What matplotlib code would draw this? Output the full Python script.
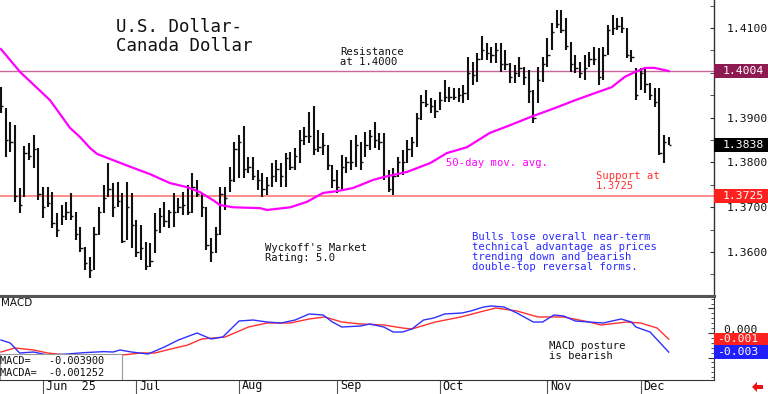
import numpy as np
import pandas as pd
import matplotlib
matplotlib.use("Agg")
import matplotlib.pyplot as plt
from matplotlib.patches import Rectangle, Polygon
import matplotlib.transforms as mtrans

# ---------------- data ----------------
highs = [1.3968, 1.3921, 1.3890, 1.3883, 1.3743, 1.3837, 1.3843, 1.3861, 1.3832, 1.3745,
         1.3745, 1.3734, 1.3687, 1.3705, 1.3712, 1.3732, 1.3689, 1.3656, 1.3611, 1.3589,
         1.3656, 1.3700, 1.3750, 1.3799, 1.3754, 1.3756, 1.3732, 1.3756, 1.3732, 1.3671,
         1.3660, 1.3622, 1.3620, 1.3687, 1.3698, 1.3712, 1.3694, 1.3732, 1.3721, 1.3734,
         1.3750, 1.3776, 1.3761, 1.3732, 1.3700, 1.3631, 1.3656, 1.3745, 1.3745, 1.3790,
         1.3846, 1.3861, 1.3881, 1.3812, 1.3812, 1.3783, 1.3776, 1.3767, 1.3799, 1.3805,
         1.3799, 1.3821, 1.3823, 1.3832, 1.3872, 1.3879, 1.3913, 1.3926, 1.3872, 1.3866,
         1.3839, 1.3794, 1.3783, 1.3817, 1.3812, 1.3850, 1.3861, 1.3846, 1.3868, 1.3872,
         1.3890, 1.3866, 1.3866, 1.3783, 1.3788, 1.3812, 1.3828, 1.3850, 1.3857, 1.3910,
         1.3950, 1.3962, 1.3944, 1.3939, 1.3957, 1.3984, 1.3968, 1.3966, 1.3966, 1.3973,
         1.4035, 1.4024, 1.4044, 1.4082, 1.4067, 1.4058, 1.4067, 1.4067, 1.4051, 1.4022,
         1.4017, 1.4035, 1.4013, 1.4006, 1.3962, 1.4013, 1.4035, 1.4078, 1.4111, 1.4140,
         1.4140, 1.4122, 1.4069, 1.4040, 1.4024, 1.4040, 1.4046, 1.4058, 1.4055, 1.4058,
         1.4107, 1.4129, 1.4122, 1.4125, 1.4100, 1.4051, 1.4011, 1.4011, 1.4013, 1.3977,
         1.3966, 1.3966, 1.3861, 1.3857]
lows = [1.3910, 1.3812, 1.3823, 1.3712, 1.3687, 1.3723, 1.3805, 1.3788, 1.3716, 1.3676,
        1.3700, 1.3654, 1.3634, 1.3660, 1.3671, 1.3671, 1.3627, 1.3600, 1.3560, 1.3542,
        1.3560, 1.3638, 1.3687, 1.3723, 1.3678, 1.3700, 1.3620, 1.3627, 1.3609, 1.3589,
        1.3582, 1.3560, 1.3567, 1.3598, 1.3642, 1.3656, 1.3654, 1.3656, 1.3687, 1.3683,
        1.3683, 1.3687, 1.3723, 1.3678, 1.3605, 1.3578, 1.3598, 1.3638, 1.3694, 1.3734,
        1.3756, 1.3765, 1.3765, 1.3776, 1.3761, 1.3738, 1.3723, 1.3727, 1.3745, 1.3756,
        1.3745, 1.3745, 1.3783, 1.3783, 1.3799, 1.3839, 1.3843, 1.3817, 1.3823, 1.3817,
        1.3783, 1.3743, 1.3732, 1.3738, 1.3776, 1.3783, 1.3790, 1.3783, 1.3812, 1.3828,
        1.3832, 1.3828, 1.3761, 1.3734, 1.3727, 1.3767, 1.3772, 1.3799, 1.3812, 1.3834,
        1.3895, 1.3924, 1.3910, 1.3899, 1.3917, 1.3935, 1.3935, 1.3939, 1.3935, 1.3933,
        1.3939, 1.3973, 1.3980, 1.4029, 1.4029, 1.4022, 1.4022, 1.4002, 1.4006, 1.3977,
        1.3977, 1.3991, 1.3973, 1.3933, 1.3888, 1.3933, 1.3980, 1.4013, 1.4051, 1.4100,
        1.4089, 1.4051, 1.4002, 1.4000, 1.3988, 1.3984, 1.4013, 1.4017, 1.3973, 1.3984,
        1.4040, 1.4084, 1.4096, 1.4089, 1.4033, 1.4024, 1.3939, 1.3962, 1.3955, 1.3939,
        1.3924, 1.3817, 1.3799, 1.3838]
closes = [1.3925, 1.3850, 1.3845, 1.3725, 1.3705, 1.3820, 1.3815, 1.3830, 1.3730, 1.3700,
          1.3710, 1.3665, 1.3650, 1.3680, 1.3690, 1.3680, 1.3640, 1.3610, 1.3575, 1.3560,
          1.3640, 1.3690, 1.3720, 1.3740, 1.3700, 1.3715, 1.3625, 1.3700, 1.3660, 1.3600,
          1.3610, 1.3570, 1.3580, 1.3650, 1.3680, 1.3670, 1.3690, 1.3690, 1.3700, 1.3705,
          1.3690, 1.3745, 1.3730, 1.3700, 1.3615, 1.3600, 1.3640, 1.3730, 1.3720, 1.3760,
          1.3830, 1.3845, 1.3785, 1.3790, 1.3770, 1.3760, 1.3740, 1.3750, 1.3770, 1.3785,
          1.3770, 1.3810, 1.3790, 1.3815, 1.3850, 1.3860, 1.3860, 1.3830, 1.3835, 1.3840,
          1.3795, 1.3760, 1.3745, 1.3790, 1.3800, 1.3800, 1.3840, 1.3800, 1.3840, 1.3860,
          1.3850, 1.3845, 1.3770, 1.3740, 1.3770, 1.3800, 1.3800, 1.3830, 1.3845, 1.3900,
          1.3935, 1.3930, 1.3925, 1.3915, 1.3940, 1.3945, 1.3945, 1.3945, 1.3950, 1.3955,
          1.4000, 1.3995, 1.4030, 1.4050, 1.4045, 1.4040, 1.4050, 1.4020, 1.4020, 1.3990,
          1.4000, 1.4010, 1.3990, 1.3960, 1.3900, 1.3985, 1.4020, 1.4040, 1.4090, 1.4110,
          1.4095, 1.4060, 1.4020, 1.4010, 1.4000, 1.4010, 1.4030, 1.4030, 1.3990, 1.4040,
          1.4095, 1.4100, 1.4105, 1.4100, 1.4040, 1.4035, 1.3950, 1.4000, 1.3975, 1.3950,
          1.3935, 1.3820, 1.3845, 1.3838]

# 50-day moving average, read at selected bars
ma_bars = [0, 4.1, 10.5, 14.8, 16.9, 19.1, 20.6, 23.3, 28.3, 31.9, 36.2, 39.8, 42.6, 45.4,
           46.9, 49.7, 55.5, 57, 62, 65.5, 69, 72, 75.4, 79.7, 81.8, 87, 92, 95.5, 99.8,
           104.7, 109, 113.3, 119.3, 123, 127.8, 130.8, 133.6, 135.8, 138, 140, 143]
ma_vals = [1.4053, 1.4002, 1.3939, 1.3877, 1.3857, 1.3832, 1.3819, 1.3808, 1.3788, 1.3774,
           1.3754, 1.3745, 1.3734, 1.3716, 1.3705, 1.3700, 1.3698, 1.3694, 1.3700, 1.3712,
           1.3732, 1.3736, 1.3743, 1.3761, 1.3767, 1.3779, 1.3799, 1.3821, 1.3834, 1.3866,
           1.3883, 1.3901, 1.3924, 1.3939, 1.3957, 1.3968, 1.3991, 1.4002, 1.4011, 1.4011,
           1.4004]

# MACD (blue) and MACDA (red), read at selected bars
macd_bars = [0, 2, 4, 7, 10, 14, 18, 22, 24, 25.5, 28, 31.5, 35, 38, 42, 45, 47.5, 51, 54,
             57, 60, 63, 66, 69, 71, 73, 77, 79, 82, 84, 86, 88, 90.5, 92.7, 95, 98.7, 100.6,
             103.4, 105, 107.7, 110.5, 114, 116, 118.4, 120.5, 123, 126, 129, 132.8, 135,
             136, 139, 141, 143]
macd_vals = [-0.00143, -0.00204, -0.00408, -0.00388, -0.00449, -0.0043, -0.0040, -0.0038,
             -0.00388, -0.00347, -0.00388, -0.00429, -0.00286, -0.00143, 0.0, -0.00122,
             -0.00082, 0.00245, 0.00265, 0.00224, 0.00204, 0.00265, 0.00388, 0.00367,
             0.00224, 0.00122, 0.00143, 0.00184, 0.00122, 0.0002, 0.0002, 0.00082, 0.00265,
             0.00306, 0.00388, 0.00408, 0.00449, 0.00531, 0.00551, 0.00531, 0.00408,
             0.00224, 0.00224, 0.00367, 0.00347, 0.00245, 0.00224, 0.00204, 0.00286,
             0.00224, 0.00122, 0.0002, -0.00184, -0.0039]
sig_bars = [0, 3, 7, 10, 14, 18, 22, 26, 30, 33, 35.5, 40, 43, 48, 53, 57, 62, 66, 69.4, 73,
            77, 82, 86, 88, 93, 98.5, 103.4, 106, 110.5, 115, 120.5, 126, 128.5, 134, 137,
            140.5, 143]
sig_vals = [-0.00388, -0.00306, -0.00347, -0.00408, -0.0045, -0.0048, -0.0046, -0.00449,
            -0.00408, -0.00408, -0.00347, -0.00245, -0.00122, -0.00082, 0.00122, 0.00204,
            0.00204, 0.00286, 0.00327, 0.00224, 0.00184, 0.00163, 0.00102, 0.00082, 0.00224,
            0.00327, 0.00449, 0.0051, 0.00449, 0.00327, 0.00327, 0.00224, 0.00163, 0.00224,
            0.00204, 0.00102, -0.001252]

resistance = 1.4004
support = 1.3725
last_price = 1.3838
price_ticks = [1.3600, 1.3700, 1.3800, 1.3900, 1.4100]
macd_last = -0.003900
macda_last = -0.001252
macd_box_labels = ['-0.001', '-0.003']
month_labels = ['Jun  25', 'Jul', 'Aug', 'Sep', 'Oct', 'Nov', 'Dec']

dates = pd.bdate_range('2025-05-20', '2025-12-09')
dates = dates[~dates.isin(pd.to_datetime(['2025-06-19', '2025-07-04']))]
n = len(highs)
dates = dates[:n]
xi = np.arange(n)
month_pos = [i for i in range(1, n) if dates[i].month != dates[i - 1].month]

# ---------------- figure ----------------
MONO = 'DejaVu Sans Mono'
W, H = 768, 394
fig = plt.figure(figsize=(W / 100, H / 100), dpi=100)
fig.patch.set_facecolor('white')

axw = 714 / W
ax = fig.add_axes([0, 1 - 296 / H, axw, 296 / H])
axm = fig.add_axes([0, 1 - 380 / H, axw, 84 / H], sharex=ax)

xmin, xmax = -0.2, 152.7
ax.set_xlim(xmin, xmax)
ax.set_ylim(1.35020, 1.41625)

# bars
ax.vlines(xi, lows, highs, color='#111111', lw=1.5, zorder=3)
ax.hlines(closes, xi, xi + 0.5, color='#111111', lw=1.0, zorder=3)

# MA
ax.plot(ma_bars, ma_vals, color='#ff00ff', lw=1.6, zorder=4, solid_joinstyle='round')

# horizontal lines
ax.axhline(resistance, color='#c8689a', lw=1.0, zorder=2)
ax.axhline(support, color='#ff8c8c', lw=1.4, zorder=2)

# axes styling - price
for s in ['left', 'top']:
    ax.spines[s].set_visible(False)
ax.spines['right'].set_color('#333333')
ax.spines['right'].set_linewidth(1.0)
ax.spines['bottom'].set_color('#555555')
ax.spines['bottom'].set_linewidth(2.2)
ax.yaxis.tick_right()
ax.set_yticks(price_ticks)
ax.set_yticklabels([f'{v:.4f}' for v in price_ticks], fontfamily=MONO, fontsize=8.2)
ax.set_yticks(np.arange(1.3550, 1.4160, 0.0050), minor=True)
ax.tick_params(axis='y', which='both', direction='in', length=3, pad=9, colors='#333333')
ax.tick_params(axis='y', which='major', labelcolor='#111111')
ax.tick_params(axis='x', which='both', bottom=False, labelbottom=False)

# right boxes on price axis
btr = mtrans.blended_transform_factory(ax.transAxes, ax.transData)
for val, fc in [(resistance, '#8e1a52'), (support, '#ff2020'), (last_price, '#000000')]:
    ax.add_patch(Rectangle((1.0, val - 0.00155), 54 / 714, 0.0031, transform=btr,
                           facecolor=fc, edgecolor='none', clip_on=False, zorder=6))
    ax.text(1.0 + 9 / 714, val, f'{val:.4f}', transform=btr, ha='left', va='center',
            color='white', fontfamily=MONO, fontsize=8.2, zorder=7, clip_on=False)

# annotations - price
ax.text(116 / 714, 1 - 18 / 296, 'U.S. Dollar-\nCanada Dollar', transform=ax.transAxes,
        ha='left', va='top', fontfamily=MONO, fontsize=12.5, linespacing=1.05, color='#111111')
ax.text(340 / 714, 1 - 47 / 296, 'Resistance\nat 1.4000', transform=ax.transAxes,
        ha='left', va='top', fontfamily=MONO, fontsize=7.6, linespacing=1.0, color='#111111')
ax.text(446 / 714, 1 - 163 / 296, '50-day mov. avg.', transform=ax.transAxes,
        ha='left', va='center', fontfamily=MONO, fontsize=7.6, color='#ff00ff')
ax.text(596 / 714, 1 - 171 / 296, 'Support at\n1.3725', transform=ax.transAxes,
        ha='left', va='top', fontfamily=MONO, fontsize=7.6, linespacing=1.0, color='#ff3030')
ax.text(265 / 714, 1 - 243 / 296, "Wyckoff's Market\nRating: 5.0", transform=ax.transAxes,
        ha='left', va='top', fontfamily=MONO, fontsize=7.6, linespacing=1.0, color='#111111')
ax.text(472 / 714, 1 - 232 / 296,
        'Bulls lose overall near-term\ntechnical advantage as prices\n'
        'trending down and bearish\ndouble-top reversal forms.',
        transform=ax.transAxes, ha='left', va='top', fontfamily=MONO, fontsize=7.6,
        linespacing=1.0, color='#2a2aff')

# ---------------- MACD panel ----------------
axm.set_ylim(-0.00959, 0.00755)
axm.plot(sig_bars, sig_vals, color='#ff3030', lw=1.0, zorder=3)
axm.plot(macd_bars, macd_vals, color='#3030ff', lw=1.0, zorder=4)
axm.spines['left'].set_visible(False)
axm.spines['top'].set_color('#555555')
axm.spines['top'].set_linewidth(2.2)
axm.spines['right'].set_color('#333333')
axm.spines['bottom'].set_color('#333333')
axm.yaxis.tick_right()
axm.set_yticks([-0.005, 0.0, 0.005])
axm.set_yticklabels([])
axm.set_yticks(np.arange(-0.009, 0.0075, 0.001), minor=True)
axm.tick_params(axis='y', which='major', direction='in', length=4, colors='#333333')
axm.tick_params(axis='y', which='minor', direction='in', length=2, colors='#333333')

axm.set_xticks(month_pos)
axm.set_xticklabels([])
axm.tick_params(axis='x', which='major', direction='out', length=10, width=0.8,
                colors='#555555')
bxm = mtrans.blended_transform_factory(axm.transData, axm.transAxes)
for p, lab in zip(month_pos, month_labels):
    axm.text(p + 0.6, -6 / 84, lab, transform=bxm, ha='left', va='center',
             fontfamily=MONO, fontsize=8.5, color='#111111', clip_on=False)

axm.text(0.001, 1 - 2 / 84, 'MACD', transform=axm.transAxes, ha='left', va='top',
         fontsize=7.5, color='#111111')
axm.text(549 / 714, 1 - 45 / 84, 'MACD posture\nis bearish', transform=axm.transAxes,
         ha='left', va='top', fontfamily=MONO, fontsize=7.6, linespacing=1.0, color='#111111')

# legend box
axm.add_patch(Rectangle((0, 0), 122 / 714, 26 / 84, transform=axm.transAxes,
                        facecolor='white', edgecolor='#999999', lw=0.8, zorder=8))
axm.text(0.0, 1 - 65 / 84, f'MACD=   {macd_last:.6f}', transform=axm.transAxes,
         ha='left', va='center', fontfamily=MONO, fontsize=7.4, zorder=9, color='#111111')
axm.text(0.0, 1 - 77 / 84, f'MACDA=  {macda_last:.6f}', transform=axm.transAxes,
         ha='left', va='center', fontfamily=MONO, fontsize=7.4, zorder=9, color='#111111')

# right labels MACD
bmr = mtrans.blended_transform_factory(axm.transAxes, axm.transData)
axm.text(1.0 + 9 / 714, 0.0006, '0.000', transform=bmr, ha='left', va='center',
         fontfamily=MONO, fontsize=8.2, color='#111111', clip_on=False, zorder=5)
for val, lab, fc in [(macda_last, macd_box_labels[0], '#ff2020'),
                     (macd_last, macd_box_labels[1], '#2020ff')]:
    axm.add_patch(Rectangle((1.0, val - 0.00135), 54 / 714, 0.0027, transform=bmr,
                            facecolor=fc, edgecolor='none', clip_on=False, zorder=6))
    axm.text(1.0 + 3 / 714, val, lab, transform=bmr, ha='left', va='center',
             color='white', fontfamily=MONO, fontsize=8.2, zorder=7, clip_on=False)

# small red arrow bottom right
arrow_px = [(752, 387), (757, 382), (757, 385), (763, 385), (763, 389), (757, 389), (757, 392)]
fig.patches.append(Polygon([(x / W, 1 - y / H) for x, y in arrow_px], closed=True,
                           transform=fig.transFigure, facecolor='#ee1111', edgecolor='none'))

fig.savefig('out.png', dpi=100, facecolor='white')
